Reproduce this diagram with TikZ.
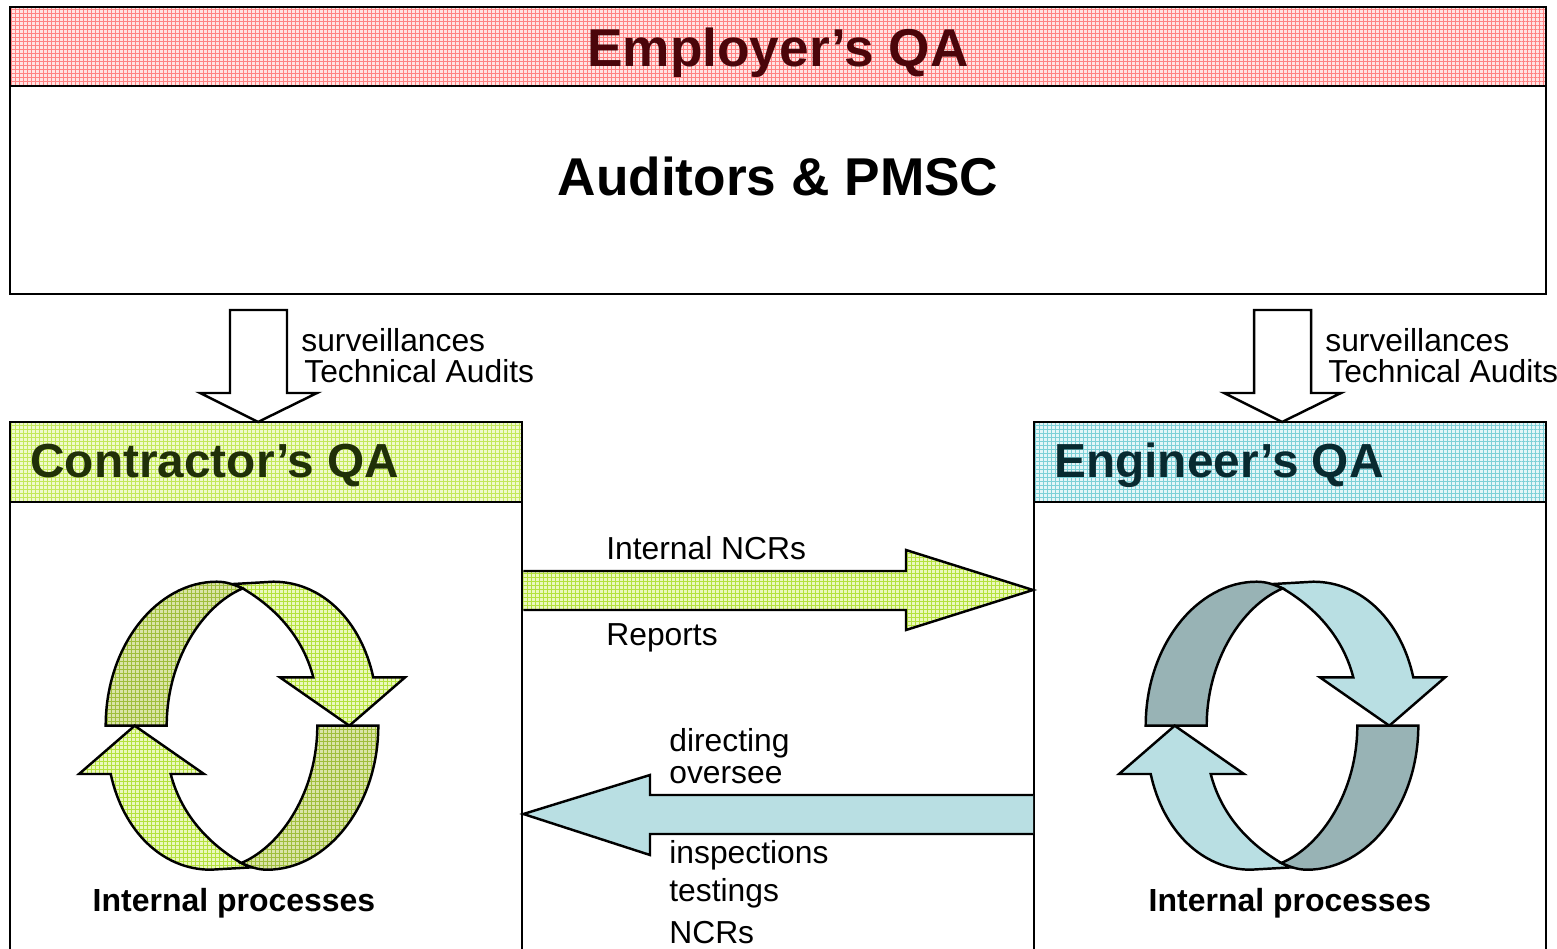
\documentclass[tikz,border=0pt]{standalone}
\usepackage{fontspec}
\setmainfont{Liberation Sans}
\usetikzlibrary{calc, patterns.meta}
\definecolor{redbase}{RGB}{255,228,228}
\definecolor{redgrid}{RGB}{255,130,130}
\definecolor{redtext}{RGB}{75,5,10}
\definecolor{greenbase}{RGB}{240,250,205}
\definecolor{greengrid}{RGB}{195,232,90}
\definecolor{greentext}{RGB}{32,48,8}
\definecolor{bluebase}{RGB}{228,246,248}
\definecolor{bluegrid}{RGB}{125,208,215}
\definecolor{bluetext}{RGB}{8,42,48}
\definecolor{greenlightbase}{RGB}{235,248,190}
\definecolor{greenlightgrid}{RGB}{180,225,60}
\definecolor{greendarkbase}{RGB}{218,228,168}
\definecolor{greendarkgrid}{RGB}{160,190,60}
\definecolor{bluelight}{RGB}{185,223,227}
\definecolor{bluedark}{RGB}{152,179,181}
\tikzset{
  dither/.style 2 args = {
    preaction={fill=#1},
    preaction={pattern={Lines[angle=0, distance=0.08cm, line width=0.02cm]}, pattern color=#2},
    preaction={pattern={Lines[angle=90, distance=0.08cm, line width=0.02cm]}, pattern color=#2}
  },
  box/.style = {draw, line width=1.4pt, anchor=north west, inner sep=0pt},
  shape line/.style = {draw, line width=1.4pt, line join=miter},
  big title/.style = {font=\fontsize{30.3}{34}\selectfont\bfseries, anchor=base},
  head title/.style = {font=\fontsize{27.2}{30}\selectfont\bfseries, anchor=base west, inner sep=0pt},
  note/.style = {font=\fontsize{18.1}{20}\selectfont, anchor=base west, inner sep=0pt},
  process/.style = {font=\fontsize{18.2}{20}\selectfont\bfseries, anchor=base}
}
% one half of the cycle, drawn about the origin
\newcommand{\halfcycle}[2]{
  \path [shape line, #1] (-8.7,-141.7) -- (31.3,-144) .. controls (80,-144) and (119,-105) .. (131.3,-48.3)
    -- (163,-48.3) -- (107.3,0) -- (38,-48.3) -- (71.3,-48.3) .. controls (60,-92) and (30,-120) .. (0.7,-137.3) -- cycle;
  \path [shape line, #2] (-136.3,0) .. controls (-136.3,-80) and (-85,-144) .. (-25.3,-144)
    .. controls (-15,-144) and (-8,-141) .. (0.7,-137.3) .. controls (-40,-120) and (-75.3,-65) .. (-75.3,0) -- cycle;
}
\begin{document}
\begin{tikzpicture}[x=0.02cm, y=-0.02cm]
\useasboundingbox (0,0) rectangle (1557,949);
% boxes
\node (employer) [box, minimum width=30.72cm, minimum height=5.74cm] at (9,6) {};
\node (employerhead) [box, dither={redbase}{redgrid}, minimum width=30.72cm, minimum height=1.58cm] at (9,6) {};
\node (contractor) [box, minimum width=10.24cm, minimum height=10.8cm] at (9,421) {};
\node (contractorhead) [box, dither={greenbase}{greengrid}, minimum width=10.24cm, minimum height=1.6cm] at (9,421) {};
\node (engineer) [box, minimum width=10.24cm, minimum height=10.8cm] at (1033,421) {};
\node (engineerhead) [box, dither={bluebase}{bluegrid}, minimum width=10.24cm, minimum height=1.6cm] at (1033,421) {};
% titles
\node (employertitle) [big title, text=redtext] at (778,67) {Employer’s QA};
\node (auditors) [big title] at (778,196) {Auditors \& PMSC};
\node (contractortitle) [head title, text=greentext] at (30,477) {Contractor’s QA};
\node (engineertitle) [head title, text=bluetext] at (1054,477) {Engineer’s QA};
% arrows down from the employer
\foreach \dx in {0,1024} {
  \path [shape line, fill=white] (230+\dx,310) -- (287+\dx,310) -- (287+\dx,393) -- (317+\dx,393)
    -- (258+\dx,422) -- (200+\dx,393) -- (230+\dx,393) -- cycle;
}
\node (survleft) [note] at (301,351) {surveillances};
\node (techleft) [note] at (304,382) {Technical Audits};
\node (survright) [note] at (1325,351) {surveillances};
\node (techright) [note] at (1328,382) {Technical Audits};
% arrows between the two boxes
\path [shape line, dither={greenlightbase}{greenlightgrid}] (contractor.east |- 0,571) -- (906,571) -- (906,550) -- (engineer.west |- 0,590)
  -- (906,630) -- (906,610) -- (contractor.east |- 0,610);
\path [shape line, fill=bluelight] (engineer.west |- 0,795) -- (650,795) -- (650,775) -- (contractor.east |- 0,814)
  -- (650,855) -- (650,834) -- (engineer.west |- 0,834);
\node (ncrs) [note] at (606,559) {Internal NCRs};
\node (reports) [note] at (606,645) {Reports};
\node (directing) [note] at (669,751) {directing};
\node (oversee) [note] at (669,783) {oversee};
\node (inspections) [note] at (669,863) {inspections};
\node (testings) [note] at (669,901) {testings};
\node (internalncrs) [note] at (669,943) {NCRs};
% cycles
\begin{scope}[shift={(242,725.7)}]
  \halfcycle{dither={greenlightbase}{greenlightgrid}}{dither={greendarkbase}{greendarkgrid}}
  \begin{scope}[rotate=180]
    \halfcycle{dither={greenlightbase}{greenlightgrid}}{dither={greendarkbase}{greendarkgrid}}
  \end{scope}
\end{scope}
\begin{scope}[shift={(1282,725.7)}]
  \halfcycle{fill=bluelight}{fill=bluedark}
  \begin{scope}[rotate=180]
    \halfcycle{fill=bluelight}{fill=bluedark}
  \end{scope}
\end{scope}
\node (processleft) [process] at (234,911) {Internal processes};
\node (processright) [process] at (1290,911) {Internal processes};
\end{tikzpicture}
\end{document}
